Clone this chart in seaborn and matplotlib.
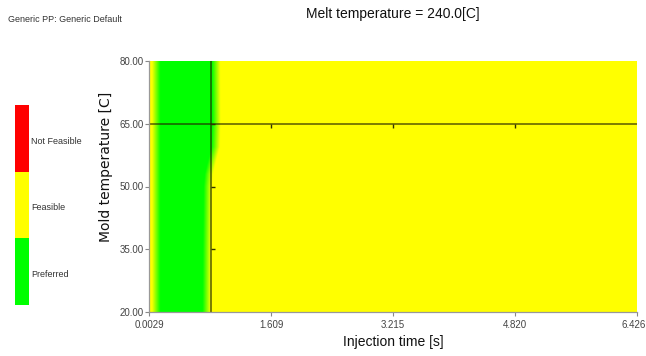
import numpy as np
import pandas as pd
import matplotlib
matplotlib.use("Agg")
import matplotlib.pyplot as plt
from matplotlib.colors import LinearSegmentedColormap, ListedColormap
from matplotlib.transforms import ScaledTranslation
import seaborn as sns

# ---- data ----
title = "Melt temperature = 240.0[C]"
subtitle = "Generic PP: Generic Default"
x_label = "Injection time [s]"
y_label = "Mold temperature [C]"
x_ticks = [0.0029, 1.609, 3.215, 4.820, 6.426]
x_tick_labels = ["0.0029", "1.609", "3.215", "4.820", "6.426"]
y_ticks = [20.0, 35.0, 50.0, 65.0, 80.0]
y_tick_labels = ["20.00", "35.00", "50.00", "65.00", "80.00"]
legend_labels = ["Not Feasible", "Feasible", "Preferred"]
legend_colors = ["#ff0000", "#ffff00", "#00ff00"]

# boundary of the "Preferred" zone, read at several mold temperatures
boundary_temp = [20.0, 35.0, 50.0, 53.0, 56.0, 59.5, 65.0, 80.0]
boundary_left = [0.095, 0.095, 0.095, 0.095, 0.095, 0.095, 0.095, 0.095]
boundary_right = [0.76, 0.765, 0.775, 0.79, 0.83, 0.88, 0.89, 0.885]
transition_width = 0.11  # seconds of blending between zones

# current operating point (crosshair)
cross_time = 0.819
cross_temp = 65.0

# ---- figure ----
sns.set_theme(style="white")
plt.rcParams["font.family"] = ["Liberation Sans", "DejaVu Sans"]

fig = plt.figure(figsize=(6.46, 3.56), dpi=100)
ax = fig.add_axes([149 / 646, 1 - 312 / 356, 488 / 646, 251 / 356])

t_grid = np.linspace(x_ticks[0], x_ticks[-1], 1200)
T_grid = np.linspace(y_ticks[0], y_ticks[-1], 300)
left = np.interp(T_grid, boundary_temp, boundary_left)[:, None]
right = np.interp(T_grid, boundary_temp, boundary_right)[:, None]
g_left = np.clip((t_grid[None, :] - left) / transition_width + 0.5, 0, 1)
g_right = np.clip((right - t_grid[None, :]) / transition_width + 0.5, 0, 1)
green_share = np.minimum(g_left, g_right)

cmap = LinearSegmentedColormap.from_list("yg", ["#ffff00", "#00ff00"])
ax.imshow(green_share, cmap=cmap, vmin=0, vmax=1, origin="lower", aspect="auto",
          extent=[x_ticks[0], x_ticks[-1], y_ticks[0], y_ticks[-1]],
          interpolation="bilinear")

line_kw = dict(color="#222200", alpha=0.75, linewidth=1.1)
ax.plot([cross_time, cross_time], [y_ticks[0], y_ticks[-1]], **line_kw)
ax.plot([x_ticks[0], x_ticks[-1]], [cross_temp, cross_temp], **line_kw)
ax.plot(x_ticks[1:-1], [cross_temp] * 3, linestyle="none", marker=3,
        markersize=3, color="#333300", markeredgewidth=1)
ax.plot([cross_time] * 3, y_ticks[1:-1], linestyle="none", marker=1,
        markersize=3, color="#333300", markeredgewidth=1)

ax.set_xlim(x_ticks[0], x_ticks[-1])
ax.set_ylim(y_ticks[0], y_ticks[-1])
ax.set_xticks(x_ticks)
ax.set_xticklabels(x_tick_labels)
ax.set_yticks(y_ticks)
ax.set_yticklabels(y_tick_labels)
ax.tick_params(axis="both", direction="out", length=3, width=0.8, color="#888888",
               labelsize=7, labelcolor="#444444", left=True, bottom=True)
ax.tick_params(axis="x", pad=2.5)
ax.tick_params(axis="y", pad=0.5)
xt_labels = ax.get_xticklabels()
xt_labels[-1].set_horizontalalignment("right")
xt_labels[-1].set_transform(xt_labels[-1].get_transform() +
                            ScaledTranslation(9 / 100, 0, fig.dpi_scale_trans))
for side in ["top", "right"]:
    ax.spines[side].set_visible(False)
for side in ["left", "bottom"]:
    ax.spines[side].set_color("#999999")
    ax.spines[side].set_linewidth(0.9)

ax.set_xlabel(x_label, fontsize=10, color="#111111", labelpad=4)
ax.set_ylabel(y_label, fontsize=10, color="#111111",
              family=["DejaVu Sans"])
ax.yaxis.set_label_coords(-(149 - 113) / 488, (312 - 167) / 251)
ax.set_title(title, fontsize=10, color="#111111", pad=31)

fig.text(8 / 646, 1 - 20 / 356, subtitle, fontsize=6.5, color="#333333",
         va="center", ha="left")

# ---- legend bar ----
lax = fig.add_axes([15 / 646, 1 - 305 / 356, 14 / 646, 200 / 356])
legend_df = pd.DataFrame({"zone": [0, 1, 2]}, index=legend_labels)
sns.heatmap(legend_df, ax=lax, cmap=ListedColormap(legend_colors), cbar=False,
            vmin=-0.5, vmax=2.5, xticklabels=False, yticklabels=False)
lax.set_xlabel("")
lax.set_ylabel("")
for i, lab in enumerate(legend_labels):
    y_center = 1 - 305 / 356 + 200 / 356 * (1 - (i + 0.5) / 3) - 3 / 356
    fig.text(31 / 646, y_center, lab, fontsize=6.5, color="#333333",
             va="center", ha="left")

fig.savefig("out.png", dpi=100)
